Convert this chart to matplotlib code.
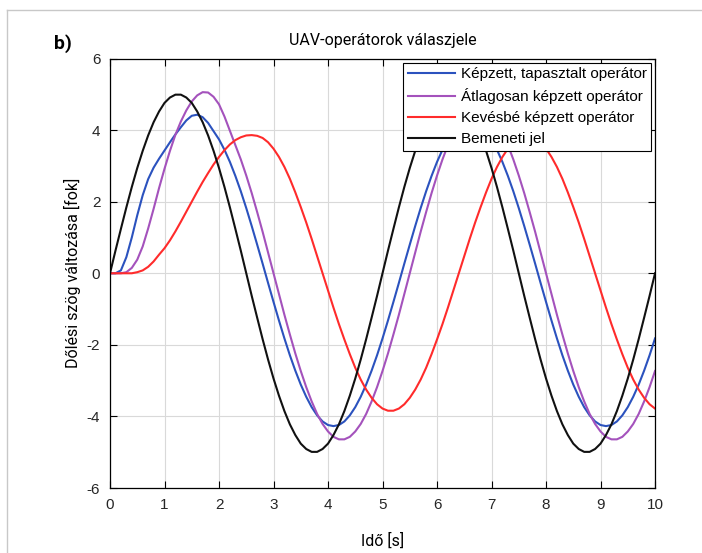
import numpy as np
import matplotlib
matplotlib.use("Agg")
import matplotlib.pyplot as plt
from matplotlib import font_manager
from matplotlib.lines import Line2D

plt.rcParams['axes.unicode_minus'] = False

# idő [s], 0.1 s lépésközzel
t = np.linspace(0, 10, 101)

bemeneti = [
    0, 0.63, 1.24, 1.84, 2.41, 2.94, 3.42, 3.85, 4.22, 4.52,
    4.76, 4.91, 4.99, 4.99, 4.91, 4.76, 4.52, 4.22, 3.85, 3.42,
    2.94, 2.41, 1.84, 1.24, 0.63, 0, -0.63, -1.24, -1.84, -2.41,
    -2.94, -3.42, -3.85, -4.22, -4.52, -4.76, -4.91, -4.99, -4.99, -4.91,
    -4.76, -4.52, -4.22, -3.85, -3.42, -2.94, -2.41, -1.84, -1.24, -0.63,
    0, 0.63, 1.24, 1.84, 2.41, 2.94, 3.42, 3.85, 4.22, 4.52,
    4.76, 4.91, 4.99, 4.99, 4.91, 4.76, 4.52, 4.22, 3.85, 3.42,
    2.94, 2.41, 1.84, 1.24, 0.63, 0, -0.63, -1.24, -1.84, -2.41,
    -2.94, -3.42, -3.85, -4.22, -4.52, -4.76, -4.91, -4.99, -4.99, -4.91,
    -4.76, -4.52, -4.22, -3.85, -3.42, -2.94, -2.41, -1.84, -1.24, -0.63,
    0]

kepzett = [
    0, 0.0, 0.08, 0.45, 1.0, 1.62, 2.18, 2.63, 2.95, 3.2,
    3.43, 3.66, 3.88, 4.08, 4.27, 4.40, 4.43, 4.36, 4.2, 3.97,
    3.74, 3.45, 3.11, 2.72, 2.29, 1.82, 1.32, 0.80, 0.27, -0.27,
    -0.80, -1.32, -1.82, -2.29, -2.72, -3.11, -3.45, -3.74, -3.97, -4.14,
    -4.24, -4.27, -4.24, -4.14, -3.97, -3.74, -3.45, -3.11, -2.72, -2.29,
    -1.82, -1.32, -0.80, -0.27, 0.27, 0.80, 1.32, 1.82, 2.29, 2.72,
    3.11, 3.45, 3.74, 3.97, 4.14, 4.24, 4.27, 4.24, 4.14, 3.97,
    3.74, 3.45, 3.11, 2.72, 2.29, 1.82, 1.32, 0.80, 0.27, -0.27,
    -0.80, -1.32, -1.82, -2.29, -2.72, -3.11, -3.45, -3.74, -3.97, -4.14,
    -4.24, -4.27, -4.24, -4.14, -3.97, -3.74, -3.45, -3.11, -2.72, -2.29,
    -1.82]

atlagos = [
    0, 0, 0, 0.03, 0.15, 0.38, 0.75, 1.25, 1.8, 2.38,
    2.92, 3.42, 3.87, 4.24, 4.55, 4.80, 4.97, 5.06, 5.05, 4.93,
    4.72, 4.38, 3.98, 3.58, 3.18, 2.73, 2.24, 1.71, 1.16, 0.58,
    0, -0.58, -1.16, -1.71, -2.24, -2.73, -3.18, -3.58, -3.93, -4.21,
    -4.42, -4.57, -4.64, -4.64, -4.57, -4.42, -4.21, -3.93, -3.58, -3.18,
    -2.73, -2.24, -1.71, -1.16, -0.58, 0, 0.58, 1.16, 1.71, 2.24,
    2.73, 3.18, 3.58, 3.93, 4.21, 4.42, 4.57, 4.64, 4.64, 4.57,
    4.42, 4.21, 3.93, 3.58, 3.18, 2.73, 2.24, 1.71, 1.16, 0.58,
    0, -0.58, -1.16, -1.71, -2.24, -2.73, -3.18, -3.58, -3.93, -4.21,
    -4.42, -4.57, -4.64, -4.64, -4.57, -4.42, -4.21, -3.93, -3.58, -3.18,
    -2.73]

kevesbe = [
    0, 0, 0, 0, 0, 0.03, 0.08, 0.18, 0.33, 0.52,
    0.7, 0.92, 1.17, 1.44, 1.72, 2.0, 2.28, 2.55, 2.8, 3.04,
    3.25, 3.44, 3.6, 3.72, 3.8, 3.85, 3.86, 3.84, 3.78, 3.66,
    3.48, 3.25, 2.97, 2.64, 2.26, 1.85, 1.42, 0.96, 0.48, 0,
    -0.48, -0.96, -1.42, -1.85, -2.26, -2.64, -2.97, -3.25, -3.48, -3.66,
    -3.78, -3.84, -3.84, -3.78, -3.66, -3.48, -3.25, -2.97, -2.64, -2.26,
    -1.85, -1.42, -0.96, -0.48, 0, 0.48, 0.96, 1.42, 1.85, 2.26,
    2.64, 2.97, 3.25, 3.48, 3.66, 3.78, 3.84, 3.84, 3.78, 3.66,
    3.48, 3.25, 2.97, 2.64, 2.26, 1.85, 1.42, 0.96, 0.48, 0,
    -0.48, -0.96, -1.42, -1.85, -2.26, -2.64, -2.97, -3.25, -3.48, -3.66,
    -3.78]

cimkek = ["Képzett, tapasztalt operátor", "Átlagosan képzett operátor",
          "Kevésbé képzett operátor", "Bemeneti jel"]
szinek = ["#2b52be", "#a452bc", "#ff2b2b", "#111111"]

# feliratok betűtípusa (a referencia keskeny betűt használ)
nevek = set(f.name for f in font_manager.fontManager.ttflist)
felirat = "Roboto" if "Roboto" in nevek else "DejaVu Sans"
arial = "Liberation Sans"

fig = plt.figure(figsize=(7.02, 5.53), dpi=100)
ax = fig.add_axes([0.1567, 0.1175, 0.7764, 0.7767])

for y, c, l in zip([kepzett, atlagos, kevesbe, bemeneti], szinek, cimkek):
    ax.plot(t, y, color=c, lw=1.5, label=l)

ax.set_xlim(0, 10)
ax.set_ylim(-6, 6)
ax.set_xticks(range(0, 11))
ax.set_yticks(range(-6, 7, 2))
ax.grid(True, color="#d9d9d9", lw=0.8)
ax.set_axisbelow(True)
ax.tick_params(direction="in", top=True, right=True, length=5, width=0.8,
               labelsize=11, pad=7)
for lab in ax.get_xticklabels() + ax.get_yticklabels():
    lab.set_family(arial)
    lab.set_color("#262626")
for s in ax.spines.values():
    s.set_linewidth(0.9)

ax.set_title("UAV-operátorok válaszjele", family=felirat, fontsize=11.5,
             pad=10)
ax.set_xlabel("Idő [s]", family=felirat, fontsize=11.5, labelpad=15)
ax.set_ylabel("Dőlési szög változása [fok]", family=felirat, fontsize=11.5,
              labelpad=4)

leg = ax.legend(loc="upper right", bbox_to_anchor=(0.993, 0.99),
                prop={"family": arial, "size": 11}, fancybox=False,
                edgecolor="black", framealpha=1, handlelength=3.1,
                handletextpad=0.35, labelspacing=0.45, borderpad=0.3,
                borderaxespad=0)
leg.get_frame().set_linewidth(0.8)

fig.text(54 / 702, 1 - 44 / 553, "b)", family=felirat, fontsize=14,
         fontweight="bold", va="center")

# keret a kép szélén
fig.add_artist(Line2D([7 / 702, 1], [1 - 10 / 553, 1 - 10 / 553],
                      color="#c8c8c8", lw=1))
fig.add_artist(Line2D([7 / 702, 7 / 702], [0, 1 - 10 / 553],
                      color="#c8c8c8", lw=1))

fig.savefig("out.png", dpi=100)
